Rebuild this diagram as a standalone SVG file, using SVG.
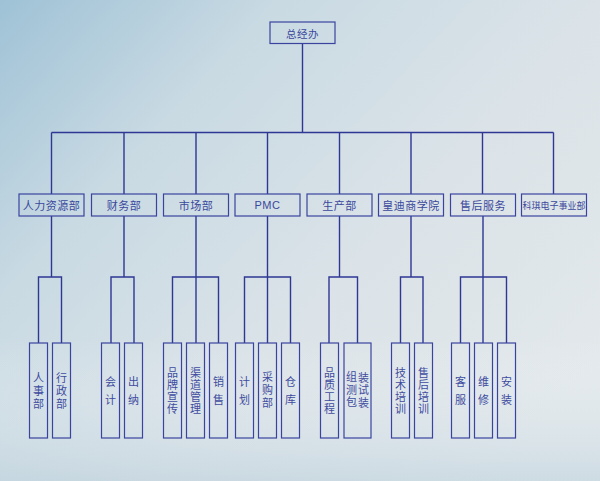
<svg xmlns="http://www.w3.org/2000/svg" width="600" height="481" viewBox="0 0 600 481">
<defs>
<linearGradient id="bg" x1="0" y1="0" x2="1" y2="0.75">
<stop offset="0" stop-color="#9fc2d6"/>
<stop offset="0.3" stop-color="#c9dae3"/>
<stop offset="0.65" stop-color="#dbe3e8"/>
<stop offset="1" stop-color="#e2e8eb"/>
</linearGradient>
<linearGradient id="bg2" x1="0" y1="0" x2="0" y2="1">
<stop offset="0" stop-color="#ffffff" stop-opacity="0"/>
<stop offset="0.7" stop-color="#ffffff" stop-opacity="0"/>
<stop offset="1" stop-color="#b8cedb" stop-opacity="0.5"/>
</linearGradient>
<style>
.box{fill:none;stroke:#3a449e;stroke-width:1.2}
.ln{fill:none;stroke:#2e3794;stroke-width:1.4}
.t{font-family:"Noto Sans CJK SC","Liberation Sans",sans-serif;fill:#3b489c;text-anchor:middle;dominant-baseline:central}
.t2{font-size:11px;letter-spacing:0.5px}
.v{font-family:"Noto Sans CJK SC",sans-serif;fill:#3f4c9f;font-size:11px;writing-mode:vertical-rl;text-anchor:middle;dominant-baseline:central}
.v4{letter-spacing:1px}
.v3{letter-spacing:2px}
.v2{letter-spacing:6.5px}
</style>
</defs>
<rect x="0" y="0" width="600" height="481" fill="url(#bg)"/>
<rect x="0" y="0" width="600" height="481" fill="url(#bg2)"/>

<g id="connectors">
<path class="ln" d="M302.5 43.5V132.5M51.5 132.5H553.5M51.5 132.5V194M124 132.5V194M196 132.5V194M267.5 132.5V194M339.5 132.5V194M411 132.5V194M482.5 132.5V194M553.5 132.5V194"/>
<path class="ln" d="M51.5 216V277M38.5 343V277H61.5V343"/>
<path class="ln" d="M124 216V277M111 343V277H134V343"/>
<path class="ln" d="M196 216V343M172.5 343V277H218.5V343"/>
<path class="ln" d="M267.5 216V343M244.5 343V277H290.5V343"/>
<path class="ln" d="M339.5 216V277M329 343V277H357.5V343"/>
<path class="ln" d="M411 216V277M400.5 343V277H423V343"/>
<path class="ln" d="M483 216V343M460.5 343V277H506.5V343"/>
</g>

<g id="n-top"><rect class="box" x="270" y="22" width="65" height="21.5"/><text class="t" x="302.5" y="33" font-size="10.5" letter-spacing="0.5">总经办</text></g>

<g id="n-hr"><rect class="box" x="19" y="194" width="65" height="22"/><text class="t t2" x="51.5" y="205">人力资源部</text></g>
<g id="n-fin"><rect class="box" x="91.5" y="194" width="65" height="22"/><text class="t t2" x="124" y="205" letter-spacing="1">财务部</text></g>
<g id="n-mkt"><rect class="box" x="163.5" y="194" width="65" height="22"/><text class="t t2" x="196" y="205" letter-spacing="1">市场部</text></g>
<g id="n-pmc"><rect class="box" x="235" y="194" width="65" height="22"/><text class="t t2" x="267.5" y="205" style="font-family:'Liberation Sans',sans-serif">PMC</text></g>
<g id="n-prod"><rect class="box" x="307" y="194" width="65" height="22"/><text class="t t2" x="339.5" y="205" letter-spacing="1">生产部</text></g>
<g id="n-acad"><rect class="box" x="378.5" y="194" width="65" height="22"/><text class="t t2" x="411" y="205">皇迪商学院</text></g>
<g id="n-svc"><rect class="box" x="450.5" y="194" width="65" height="22"/><text class="t t2" x="483" y="205" letter-spacing="1">售后服务</text></g>
<g id="n-keqi"><rect class="box" x="521.5" y="194" width="65" height="22"/><text class="t" x="554" y="205" font-size="9">科琪电子事业部</text></g>

<g id="l-renshi"><rect class="box" x="29.5" y="343" width="18" height="95"/><text class="v v3" x="38.5" y="392">人事部</text></g>
<g id="l-xingzheng"><rect class="box" x="52.5" y="343" width="18" height="95"/><text class="v v3" x="61.5" y="392">行政部</text></g>

<g id="l-kuaiji"><rect class="box" x="101.5" y="343" width="18" height="95"/><text class="v v2" x="110.5" y="394">会计</text></g>
<g id="l-chuna"><rect class="box" x="124.5" y="343" width="18" height="95"/><text class="v v2" x="133.5" y="394">出纳</text></g>

<g id="l-pinpai"><rect class="box" x="163.5" y="343" width="18" height="95"/><text class="v v4" x="172.5" y="391.5">品牌宣传</text></g>
<g id="l-qudao"><rect class="box" x="186.5" y="343" width="18" height="95"/><text class="v v4" x="195.5" y="391.5">渠道管理</text></g>
<g id="l-xiaoshou"><rect class="box" x="209.5" y="343" width="18" height="95"/><text class="v v2" x="218.5" y="394">销售</text></g>

<g id="l-jihua"><rect class="box" x="235.5" y="343" width="18" height="95"/><text class="v v2" x="244.5" y="394">计划</text></g>
<g id="l-caigou"><rect class="box" x="258.5" y="343" width="18" height="95"/><text class="v v3" x="267.5" y="391">采购部</text></g>
<g id="l-cangku"><rect class="box" x="281.5" y="343" width="18" height="95"/><text class="v v2" x="290.5" y="394">仓库</text></g>

<g id="l-pinzhi"><rect class="box" x="320.5" y="343" width="18" height="95"/><text class="v v4" x="329.5" y="391.5">品质工程</text></g>
<g id="l-zuzhuang"><rect class="box" x="344" y="343" width="27" height="95"/><text class="v" x="363.5" y="391" letter-spacing="1.5px">装试装</text><text class="v" x="351.5" y="390.5" letter-spacing="1.5px">组测包</text></g>

<g id="l-jishu"><rect class="box" x="391.5" y="343" width="18" height="95"/><text class="v v4" x="400.5" y="391.5">技术培训</text></g>
<g id="l-shouhou"><rect class="box" x="414.5" y="343" width="18" height="95"/><text class="v v4" x="423.5" y="391.5">售后培训</text></g>

<g id="l-kefu"><rect class="box" x="451.5" y="343" width="18" height="95"/><text class="v v2" x="460.5" y="394">客服</text></g>
<g id="l-weixiu"><rect class="box" x="474.5" y="343" width="18" height="95"/><text class="v v2" x="483.5" y="394">维修</text></g>
<g id="l-anzhuang"><rect class="box" x="497.5" y="343" width="18" height="95"/><text class="v v2" x="506.5" y="394">安装</text></g>
</svg>
